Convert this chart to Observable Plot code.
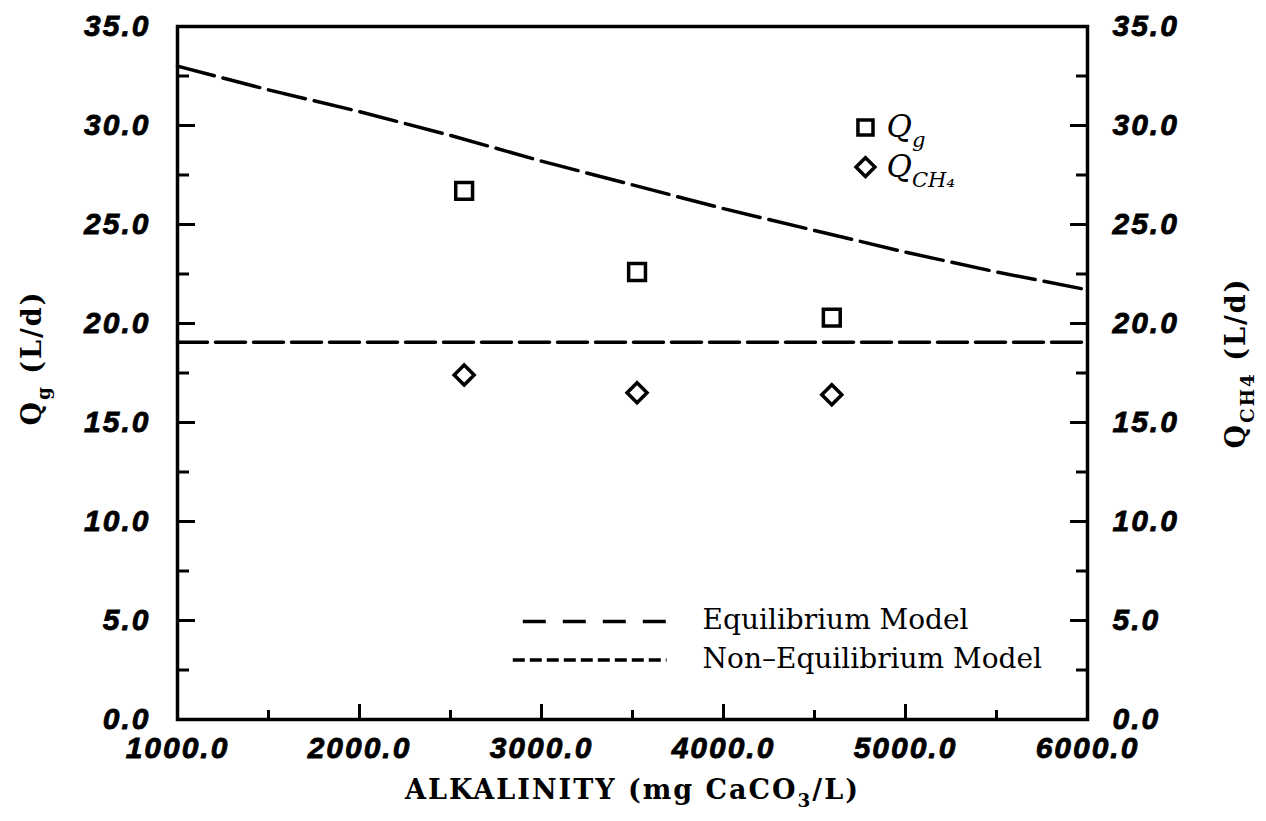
<!DOCTYPE html>
<html>
<head>
<meta charset="utf-8">
<script src="https://cdn.jsdelivr.net/npm/d3@7"></script>
<script src="https://cdn.jsdelivr.net/npm/@observablehq/plot@0.6"></script>
<style>
  html, body { margin: 0; padding: 0; background: #fff; }
  #chart svg { display: block; overflow: visible; }
  g[aria-label$="tick label"] text { letter-spacing: 2px; stroke: #000; stroke-width: 0.8px; }
  .ttl { letter-spacing: 2px; }
</style>
</head>
<body>
<div id="chart"></div>
<script>
// ---- data ----
const alkalinity = [2575, 3525, 4595];          // mg CaCO3/L
const qg = [26.7, 22.6, 20.3];                  // Q_g (L/d)
const qch4 = [17.4, 16.5, 16.4];                // Q_CH4 (L/d)

const eqAlk = [1000, 1500, 2000, 2500, 3000, 3500, 4000, 4500, 5000, 5500, 6000];
const eqQ   = [33.0, 31.8, 30.7, 29.5, 28.2, 27.0, 25.8, 24.7, 23.6, 22.6, 21.7];
const neqAlk = [1000, 6000];
const neqQ   = [19.05, 19.05];

const xTickValues = [1000, 2000, 3000, 4000, 5000, 6000];
const xMinor = [1500, 2500, 3500, 4500, 5500];
const xMajorInner = [2000, 3000, 4000, 5000];
const yTickValues = [0, 5, 10, 15, 20, 25, 30, 35];
const yMinor = [2.5, 7.5, 12.5, 17.5, 22.5, 27.5, 32.5];

// symbol legend (top right)
const symLegendX = [4780, 4780];
const symLegendY = [29.9, 27.9];
const symLegendLabel = ["Q_{g}", "Q_{CH₄}"];
const symLegendSymbol = ["square", "diamond2"];

// line legend (bottom)
const lineLegendLabel = ["Equilibrium Model", "Non–Equilibrium Model"];
const lineLegendY = [4.95, 3.0];
const lineLegendX1 = [2900, 2845];
const lineLegendX2 = [3690, 3690];
const lineLegendTextX = 3885;

const xTitle = ["ALKALINITY (mg CaCO_{3}/L)"];
const yTitleLeft = ["Q_{g} (L/d)"];
const yTitleRight = ["Q_{CH4} (L/d)"];

// ---- build ----
const W = 1266, H = 821;
const mL = 177, mR = W - 1087, mT = 26, mB = H - 719;
const fw = W - mL - mR, fh = H - mT - mB;
const fmt = d3.format(".1f");
const tickFont = {fontFamily: "Liberation Sans, Arial, sans-serif", fontWeight: "bold", fontStyle: "italic", fontSize: 30};
const titleFont = {fontFamily: "DejaVu Serif, serif", fontWeight: "bold", fontSize: 27};

const eqData = eqAlk.map((x, i) => ({x, y: eqQ[i]}));
const neqData = neqAlk.map((x, i) => ({x, y: neqQ[i]}));
const pts = alkalinity.map((x, i) => ({x, qg: qg[i], qch4: qch4[i]}));
const symLeg = symLegendX.map((x, i) => ({x, y: symLegendY[i], label: symLegendLabel[i], symbol: symLegendSymbol[i]}));
const lineLeg = lineLegendLabel.map((label, i) => ({label, y: lineLegendY[i], x1: lineLegendX1[i], x2: lineLegendX2[i]}));

const plot = Plot.plot({
  width: W,
  height: H,
  marginLeft: mL, marginRight: mR, marginTop: mT, marginBottom: mB,
  x: {domain: [1000, 6000]},
  y: {domain: [0, 35]},
  style: {background: "white", color: "black"},
  marks: [
    // tick labels
    Plot.axisX({ticks: xTickValues, tickFormat: fmt, tickSize: 0, tickPadding: 17, label: null, ...tickFont}),
    Plot.axisY({anchor: "left", ticks: yTickValues, tickFormat: fmt, tickSize: 0, tickPadding: 27, label: null, ...tickFont}),
    Plot.axisY({anchor: "right", ticks: yTickValues, tickFormat: fmt, tickSize: 0, tickPadding: 25, label: null, ...tickFont}),
    // inward ticks
    Plot.tickY(yTickValues, {insetRight: fw - 18, strokeWidth: 3, stroke: "black"}),
    Plot.tickY(yMinor, {insetRight: fw - 12, strokeWidth: 3, stroke: "black"}),
    Plot.tickY(yTickValues, {insetLeft: fw - 17, strokeWidth: 3, stroke: "black"}),
    Plot.tickY(yMinor, {insetLeft: fw - 11, strokeWidth: 3, stroke: "black"}),
    Plot.tickX(xMajorInner, {insetTop: fh - 15, strokeWidth: 3, stroke: "black"}),
    Plot.tickX(xMinor, {insetTop: fh - 9, strokeWidth: 3, stroke: "black"}),
    // model lines
    Plot.line(eqData, {x: "x", y: "y", stroke: "black", strokeWidth: 3.5, strokeDasharray: "38,9"}),
    Plot.line(neqData, {x: "x", y: "y", stroke: "black", strokeWidth: 3.5, strokeDasharray: "30,8"}),
    // measured points
    Plot.dot(pts, {x: "x", y: "qg", symbol: "square", r: 9.5, stroke: "black", strokeWidth: 3.5, fill: "white"}),
    Plot.dot(pts, {x: "x", y: "qch4", symbol: "diamond2", r: 9, stroke: "black", strokeWidth: 3.5, fill: "white"}),
    // symbol legend
    Plot.dot(symLeg, {x: "x", y: "y", symbol: "symbol", r: 8.5, stroke: "black", strokeWidth: 3.5, fill: "white"}),
    Plot.text(symLeg, {x: "x", y: "y", text: "label", dx: 21, textAnchor: "start", fontFamily: "DejaVu Serif, serif", fontStyle: "italic", fontSize: 31, fill: "black"}),
    // line legend
    Plot.ruleY(lineLeg.slice(0, 1), {y: "y", x1: "x1", x2: "x2", stroke: "black", strokeWidth: 3.5, strokeDasharray: "23,17"}),
    Plot.ruleY(lineLeg.slice(1), {y: "y", x1: "x1", x2: "x2", stroke: "black", strokeWidth: 3.5, strokeDasharray: "12,5"}),
    Plot.text(lineLeg, {x: lineLegendTextX, y: "y", text: "label", dy: -1, textAnchor: "start", fontFamily: "DejaVu Serif, serif", fontSize: 28, fill: "black"}),
    // axis titles
    Plot.text(xTitle, {text: d => d, frameAnchor: "bottom", textAnchor: "middle", dy: 79, ...titleFont, fill: "black"}),
    Plot.text(yTitleLeft, {text: d => d, frameAnchor: "left", textAnchor: "middle", rotate: -90, dx: -145, dy: -15, ...titleFont, fill: "black"}),
    Plot.text(yTitleRight, {text: d => d, frameAnchor: "right", textAnchor: "middle", rotate: -90, dx: 149, dy: -10, ...titleFont, fill: "black"}),
    // frame
    Plot.frame({stroke: "black", strokeWidth: 3.5})
  ]
});

document.getElementById("chart").append(plot);

// turn "_{...}" markers into real subscripts
d3.select(plot).selectAll("text").each(function() {
  const t = this.textContent;
  if (!t.includes("_{")) return;
  const isTitle = /ALKALINITY|L\/d/.test(t);
  const fs = parseFloat(getComputedStyle(this).fontSize) || 26;
  const sh = fs * 0.32;
  const el = d3.select(this);
  if (isTitle) el.classed("ttl", true);
  el.text(null);
  let cur = 0;
  for (const p of t.split(/(_\{[^}]*\})/)) {
    if (!p) continue;
    const m = p.match(/^_\{(.*)\}$/);
    const ts = el.append("tspan");
    if (m) { ts.attr("dy", sh - cur).attr("font-size", fs * 0.68).text(m[1]); cur = sh; }
    else { if (cur) ts.attr("dy", -cur); ts.text(p); cur = 0; }
  }
});
</script>
</body>
</html>
